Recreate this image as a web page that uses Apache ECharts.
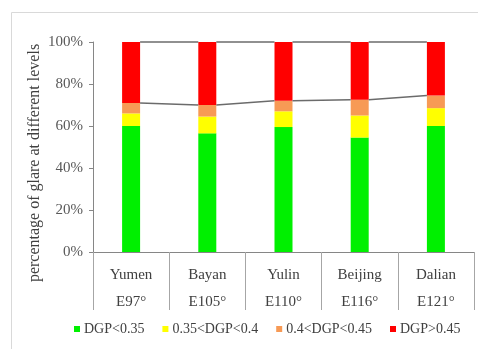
<!DOCTYPE html>
<html>
<head>
<meta charset="utf-8">
<script src="https://cdn.jsdelivr.net/npm/echarts@6/dist/echarts.min.js"></script>
<style>
  html, body { margin: 0; padding: 0; background: #fff; }
  #chart { width: 478px; height: 349px; }
</style>
</head>
<body>
<div id="chart"></div>
<script>
// Sites with their longitude
const cities = ['Yumen', 'Bayan', 'Yulin', 'Beijing', 'Dalian'];
const longitudes = ['E97°', 'E105°', 'E110°', 'E116°', 'E121°'];

// Share of time (%) in each DGP glare band
const dgpLow = [60, 56.5, 59.5, 54.5, 60];      // DGP<0.35
const dgpMid = [6, 8, 7.5, 10.5, 8.5];         // 0.35<DGP<0.4
const dgpHigh = [5, 5.5, 5, 7.5, 6];           // 0.4<DGP<0.45
const dgpIntol = [29, 30, 28, 27.5, 25.5];     // DGP>0.45

const seriesNames = ['DGP<0.35', '0.35<DGP<0.4', '0.4<DGP<0.45', 'DGP>0.45'];
const yTicks = [0, 20, 40, 60, 80, 100];

const colors = ['#00f000', '#ffff00', '#f79a55', '#ff0000'];
const serif = '"Liberation Serif", "Times New Roman", serif';
const BAR_W = 18;

// Cumulative levels joined by connector lines between neighbouring bars
const below45 = dgpLow.map((v, i) => v + dgpMid[i] + dgpHigh[i]);
const totals = below45.map((v, i) => v + dgpIntol[i]);
const connectorData = [];
for (let i = 0; i < cities.length - 1; i++) {
  connectorData.push([i, below45[i], below45[i + 1], totals[i], totals[i + 1]]);
}

const chart = echarts.init(document.getElementById('chart'), null, { renderer: 'canvas' });

const bars = [dgpLow, dgpMid, dgpHigh, dgpIntol].map((vals, k) => ({
  name: seriesNames[k],
  type: 'bar',
  stack: 'dgp',
  barWidth: BAR_W,
  itemStyle: { color: colors[k] },
  data: vals
}));

chart.setOption({
  animation: false,
  color: colors,
  grid: { left: 93, right: 4, top: 42, bottom: 97, containLabel: false },
  graphic: [
    {
      type: 'rect',
      shape: { x: 11.5, y: 12.5, width: 480, height: 340 },
      style: { fill: 'none', stroke: '#d9d9d9', lineWidth: 1 },
      z: -1
    },
    {
      type: 'text',
      x: 35,
      y: 163,
      rotation: Math.PI / 2,
      style: {
        text: 'percentage of glare at different levels',
        font: '16px ' + serif,
        fill: '#404040',
        align: 'center',
        verticalAlign: 'middle'
      }
    }
  ],
  legend: {
    data: seriesNames,
    bottom: 8,
    left: 69,
    itemWidth: 6,
    itemHeight: 6,
    itemGap: 18,
    icon: 'rect',
    textStyle: { fontFamily: serif, fontSize: 14, color: '#404040', padding: [0, 0, 0, -1] }
  },
  xAxis: {
    type: 'category',
    data: cities,
    boundaryGap: true,
    axisLine: { lineStyle: { color: '#868686', width: 1 } },
    axisTick: { show: true, interval: 0, length: 58, lineStyle: { color: '#a6a6a6' } },
    axisLabel: {
      interval: 0,
      margin: 10,
      fontFamily: serif,
      fontSize: 15,
      color: '#404040',
      lineHeight: 27,
      formatter: (v, i) => v + '\n' + longitudes[i]
    }
  },
  yAxis: {
    type: 'value',
    min: 0,
    max: 100,
    interval: 20,
    axisLine: { show: true, lineStyle: { color: '#868686', width: 1 } },
    axisTick: { show: true, length: 4, lineStyle: { color: '#868686' } },
    splitLine: { show: false },
    axisLabel: {
      margin: 10,
      fontFamily: serif,
      fontSize: 15,
      color: '#595959',
      formatter: v => (yTicks.includes(v) ? v + '%' : '')
    }
  },
  series: bars.concat([{
    name: 'connectors',
    type: 'custom',
    silent: true,
    z: 5,
    data: connectorData,
    renderItem: (params, api) => {
      const i = api.value(0);
      const half = BAR_W / 2;
      const a1 = api.coord([i, api.value(1)]);
      const b1 = api.coord([i + 1, api.value(2)]);
      const a2 = api.coord([i, api.value(3)]);
      const b2 = api.coord([i + 1, api.value(4)]);
      const st = { stroke: '#6b6b6b', lineWidth: 1.5 };
      return {
        type: 'group',
        children: [
          { type: 'line', shape: { x1: a1[0] + half, y1: a1[1], x2: b1[0] - half, y2: b1[1] }, style: st },
          { type: 'line', shape: { x1: a2[0] + half, y1: a2[1], x2: b2[0] - half, y2: b2[1] }, style: st }
        ]
      };
    }
  }])
});
</script>
</body>
</html>
